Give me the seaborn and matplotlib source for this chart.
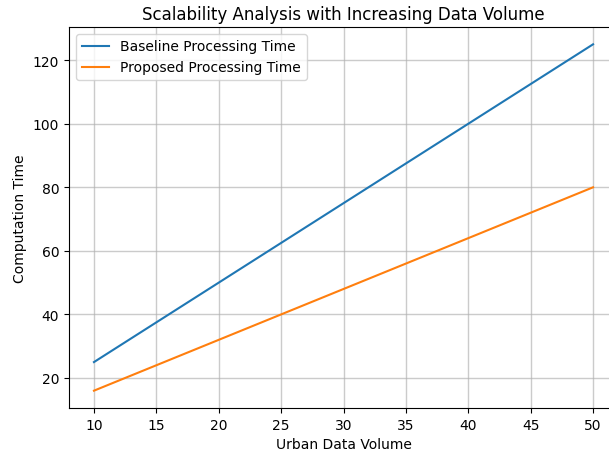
import numpy as np
import pandas as pd
import matplotlib
matplotlib.use('Agg')
import matplotlib.pyplot as plt
import seaborn as sns

data_volume = [10, 20, 30, 40, 50]
baseline_time = [25, 50, 75, 100, 125]
proposed_time = [16, 32, 48, 64, 80]

df = pd.DataFrame({
    'Urban Data Volume': data_volume * 2,
    'Computation Time': baseline_time + proposed_time,
    'Method': ['Baseline Processing Time'] * 5 + ['Proposed Processing Time'] * 5,
})

plt.rcParams['font.family'] = ['DejaVu Sans']

fig = plt.figure(figsize=(6.09, 4.52), dpi=100)
ax = fig.add_axes([69 / 609, 1 - 409 / 452, (618 - 69) / 609, (409 - 28) / 452])

sns.lineplot(data=df, x='Urban Data Volume', y='Computation Time', hue='Method',
             palette=['#1f77b4', '#ff7f0e'], linewidth=1.5, ax=ax)

ax.set_title('Scalability Analysis with Increasing Data Volume', fontsize=12)
ax.set_xlabel('Urban Data Volume', fontsize=10)
ax.set_ylabel('Computation Time', fontsize=10)
ax.set_xticks([10, 15, 20, 25, 30, 35, 40, 45, 50])
ax.set_yticks([20, 40, 60, 80, 100, 120])
ax.tick_params(labelsize=10)
ax.grid(True, color='#b0b0b0', linewidth=1.0, alpha=0.65)
ax.legend(loc='upper left', fontsize=10, title=None)

fig.savefig('out.png', dpi=100)
